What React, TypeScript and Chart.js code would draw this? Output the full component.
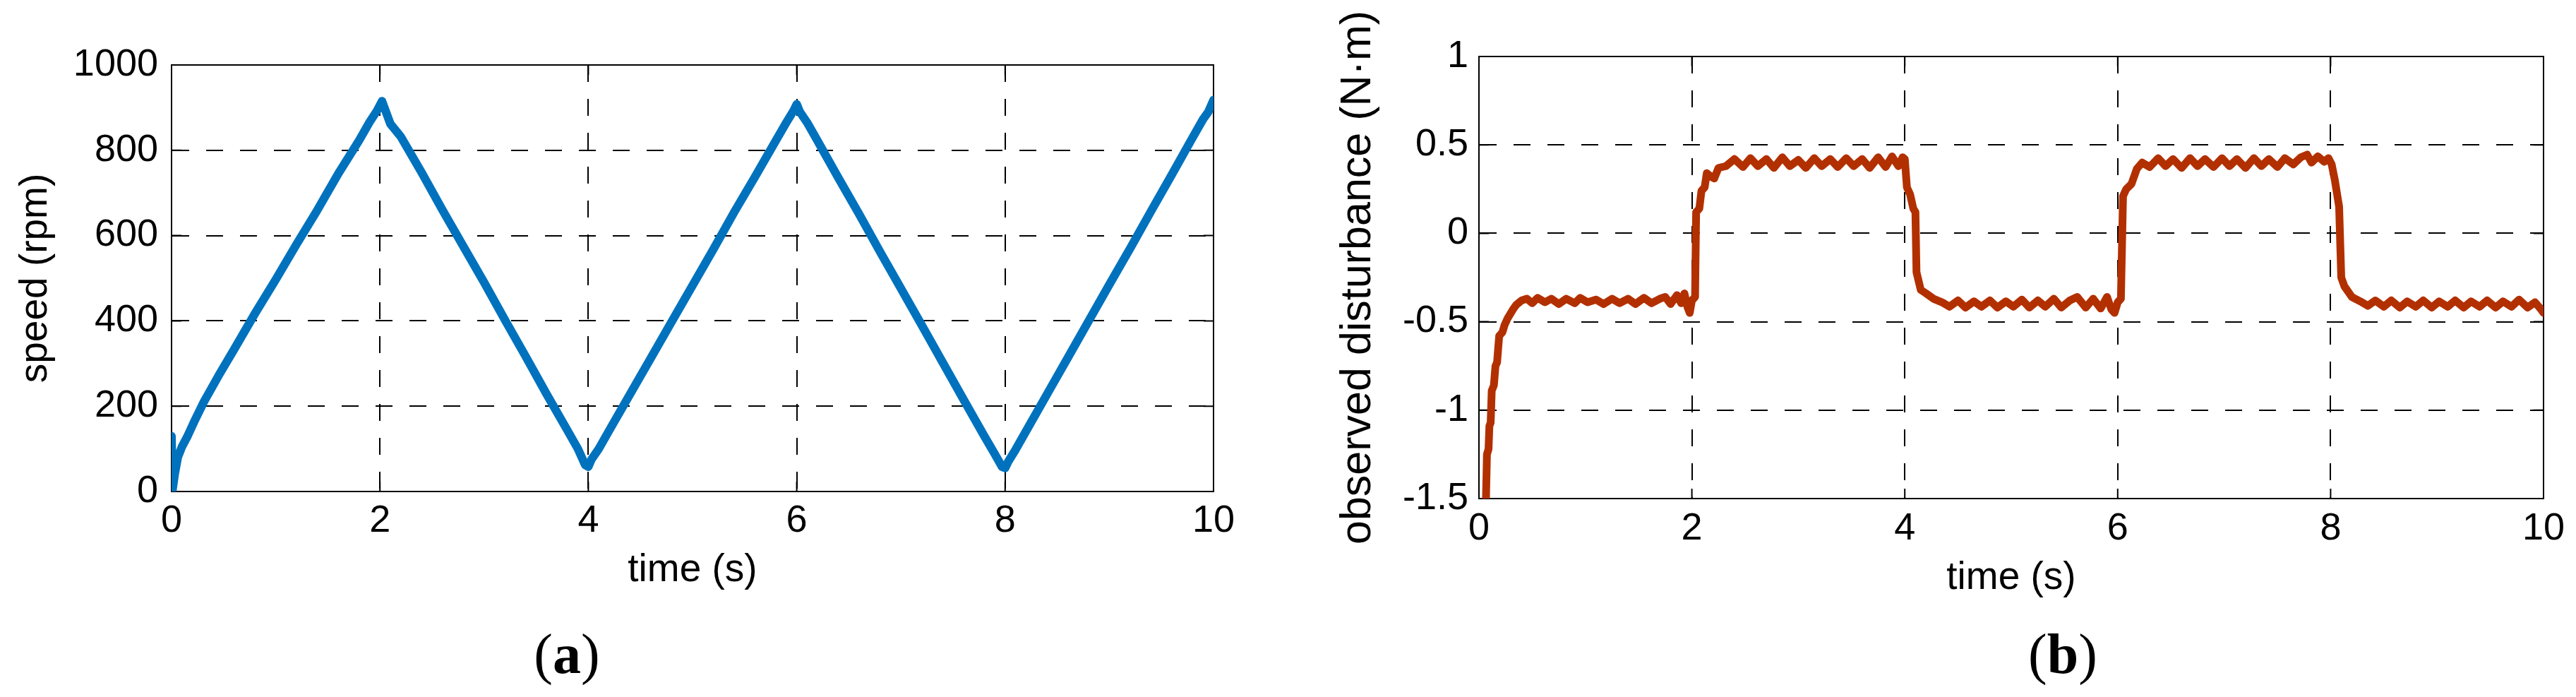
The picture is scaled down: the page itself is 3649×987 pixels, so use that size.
import React, { useEffect, useRef } from "react";
import { Chart, registerables } from "chart.js";
Chart.register(...registerables);

// ---- data ----
const speedTime = [0, 0.01, 0.03, 0.06, 0.1, 0.15, 0.22, 0.31, 0.45, 0.6, 0.8, 1.0, 1.2, 1.4, 1.6, 1.8, 1.9, 1.97, 2.02, 2.05, 2.1, 2.2, 2.4, 2.6, 2.8, 3.0, 3.2, 3.4, 3.6, 3.8, 3.9, 3.97, 4.0, 4.03, 4.1, 4.2, 4.4, 4.6, 4.8, 5.0, 5.2, 5.4, 5.6, 5.8, 5.9, 5.97, 6.0, 6.03, 6.1, 6.2, 6.4, 6.6, 6.8, 7.0, 7.2, 7.4, 7.6, 7.8, 7.9, 7.97, 8.0, 8.03, 8.1, 8.2, 8.4, 8.6, 8.8, 9.0, 9.2, 9.4, 9.6, 9.8, 9.9, 9.95, 10.0];
const speedValue = [130, 5, 40, 80, 105, 128, 165, 210, 271, 333, 417, 497, 580, 660, 745, 823, 866, 892, 915, 895, 862, 832, 748, 660, 575, 490, 402, 316, 228, 143, 100, 62, 58, 75, 100, 143, 228, 313, 398, 483, 568, 655, 738, 823, 865, 893, 908, 890, 865, 822, 735, 650, 562, 476, 390, 303, 216, 130, 88, 58, 55, 70, 98, 141, 227, 313, 399, 485, 570, 657, 743, 830, 873, 890, 918];

const distTime = [0.066, 0.075, 0.09, 0.098, 0.11, 0.12, 0.14, 0.155, 0.17, 0.19, 0.22, 0.24, 0.27, 0.29, 0.32, 0.35, 0.4, 0.45, 0.5, 0.55, 0.62, 0.68, 0.75, 0.82, 0.9, 0.95, 1.02, 1.1, 1.17, 1.25, 1.32, 1.4, 1.47, 1.55, 1.62, 1.7, 1.75, 1.8, 1.86, 1.9, 1.93, 1.96, 1.98, 2.0, 2.03, 2.04, 2.07, 2.09, 2.12, 2.14, 2.18, 2.21, 2.25, 2.32, 2.4, 2.48, 2.55, 2.62, 2.7, 2.77, 2.85, 2.92, 3.0, 3.07, 3.15, 3.22, 3.3, 3.37, 3.45, 3.52, 3.6, 3.67, 3.75, 3.82, 3.88, 3.94, 3.98, 4.0, 4.02, 4.05, 4.08, 4.1, 4.11, 4.13, 4.15, 4.2, 4.27, 4.35, 4.42, 4.5, 4.57, 4.65, 4.72, 4.8, 4.87, 4.95, 5.02, 5.1, 5.17, 5.25, 5.32, 5.4, 5.47, 5.55, 5.62, 5.7, 5.77, 5.84, 5.9, 5.94, 5.97, 6.0, 6.03, 6.05, 6.08, 6.13, 6.18, 6.23, 6.3, 6.38, 6.45, 6.52, 6.6, 6.68, 6.75, 6.82, 6.9, 6.98, 7.05, 7.12, 7.2, 7.28, 7.35, 7.42, 7.5, 7.57, 7.65, 7.72, 7.78, 7.82, 7.88, 7.94, 7.98, 8.01, 8.04, 8.08, 8.1, 8.13, 8.2, 8.28, 8.35, 8.42, 8.5, 8.57, 8.65, 8.72, 8.8, 8.87, 8.95, 9.02, 9.1, 9.17, 9.25, 9.32, 9.4, 9.47, 9.55, 9.62, 9.7, 9.77, 9.85, 9.92, 9.97, 10.0];
const distValue = [-1.5, -1.25, -1.22, -1.09, -1.07, -0.89, -0.86, -0.75, -0.73, -0.58, -0.56, -0.52, -0.48, -0.46, -0.43, -0.405, -0.38, -0.37, -0.395, -0.365, -0.39, -0.37, -0.4, -0.37, -0.395, -0.365, -0.39, -0.375, -0.4, -0.37, -0.395, -0.37, -0.4, -0.365, -0.395, -0.37, -0.36, -0.4, -0.35, -0.395, -0.34, -0.42, -0.45, -0.38, -0.36, 0.12, 0.14, 0.24, 0.26, 0.34, 0.32, 0.31, 0.37, 0.38, 0.42, 0.375, 0.425, 0.38, 0.42, 0.37, 0.43, 0.38, 0.415, 0.37, 0.425, 0.38, 0.42, 0.375, 0.425, 0.38, 0.42, 0.37, 0.43, 0.375, 0.435, 0.38, 0.43, 0.42, 0.26, 0.22, 0.14, 0.12, -0.22, -0.27, -0.32, -0.34, -0.37, -0.39, -0.415, -0.38, -0.42, -0.385, -0.415, -0.38, -0.42, -0.385, -0.415, -0.375, -0.42, -0.38, -0.415, -0.37, -0.42, -0.38, -0.36, -0.42, -0.37, -0.425, -0.36, -0.43, -0.45, -0.39, -0.37, 0.21, 0.25, 0.28, 0.365, 0.4, 0.375, 0.425, 0.38, 0.42, 0.37, 0.425, 0.38, 0.42, 0.375, 0.425, 0.38, 0.42, 0.37, 0.425, 0.38, 0.42, 0.375, 0.425, 0.39, 0.43, 0.445, 0.4, 0.435, 0.405, 0.425, 0.39, 0.3, 0.15, -0.25, -0.3, -0.36, -0.385, -0.41, -0.38, -0.415, -0.38, -0.42, -0.385, -0.415, -0.38, -0.42, -0.385, -0.415, -0.38, -0.42, -0.385, -0.415, -0.38, -0.42, -0.385, -0.415, -0.375, -0.42, -0.39, -0.425, -0.45];

const timeTicks = [0, 2, 4, 6, 8, 10];
const speedTicks = [0, 200, 400, 600, 800, 1000];
const distTicks = [-1.5, -1, -0.5, 0, 0.5, 1];

const FONT = "'Liberation Sans', Arial, Helvetica, sans-serif";
const SERIF = "'Liberation Serif', 'Times New Roman', serif";

const boxPlugin = {
  id: "matlabBox",
  beforeDatasetsDraw(chart: any) {
    const { ctx, chartArea: a, scales } = chart;
    ctx.save();
    ctx.strokeStyle = "#000";
    ctx.lineWidth = 2;
    ctx.setLineDash([]);
    ctx.strokeRect(a.left, a.top, a.right - a.left, a.bottom - a.top);
    const L = 14;
    ctx.beginPath();
    scales.x.ticks.forEach((t: any) => {
      const x = scales.x.getPixelForValue(t.value);
      ctx.moveTo(x, a.bottom);
      ctx.lineTo(x, a.bottom - L);
      ctx.moveTo(x, a.top);
      ctx.lineTo(x, a.top + L);
    });
    scales.y.ticks.forEach((t: any) => {
      const y = scales.y.getPixelForValue(t.value);
      ctx.moveTo(a.left, y);
      ctx.lineTo(a.left + L, y);
      ctx.moveTo(a.right, y);
      ctx.lineTo(a.right - L, y);
    });
    ctx.stroke();
    ctx.restore();
  },
};

// panel caption "(a)" / "(b)": regular parentheses, bold letter
const captionPlugin = {
  id: "panelCaption",
  afterDraw(chart: any, _args: any, opts: any) {
    if (!opts || !opts.letter) return;
    const { ctx } = chart;
    const size = opts.size;
    const parts = [
      { t: "(", w: "normal" },
      { t: opts.letter, w: "bold" },
      { t: ")", w: "normal" },
    ];
    ctx.save();
    ctx.fillStyle = "#000";
    ctx.textBaseline = "alphabetic";
    ctx.textAlign = "left";
    const widths = parts.map((p) => {
      ctx.font = `${p.w} ${size}px ${SERIF}`;
      return ctx.measureText(p.t).width;
    });
    const total = widths.reduce((s, w) => s + w, 0);
    let x = opts.cx - total / 2;
    parts.forEach((p, i) => {
      ctx.font = `${p.w} ${size}px ${SERIF}`;
      ctx.fillText(p.t, x, opts.baseline);
      x += widths[i];
    });
    ctx.restore();
  },
};

type Cfg = {
  xs: number[];
  ys: number[];
  color: string;
  lineWidth: number;
  yMin: number;
  yMax: number;
  yTicks: number[];
  yTitle: string;
  yTitleSize: number;
  yTitlePad: number;
  yWidth: number;
  xHeight: number;
  xTitlePad: number;
  xTickPad: number;
  yTickPad: number;
  padding: { left: number; right: number; top: number; bottom: number };
  caption: { letter: string; cx: number; baseline: number; size: number };
};

function makeConfig(c: Cfg): any {
  return {
    type: "line",
    data: {
      datasets: [
        {
          data: c.xs.map((x, i) => ({ x, y: c.ys[i] })),
          borderColor: c.color,
          borderWidth: c.lineWidth,
          pointRadius: 0,
          tension: 0,
          borderJoinStyle: "round",
          borderCapStyle: "round",
          fill: false,
        },
      ],
    },
    options: {
      animation: false,
      responsive: false,
      maintainAspectRatio: false,
      devicePixelRatio: 1,
      layout: { padding: c.padding },
      plugins: {
        legend: { display: false },
        tooltip: { enabled: false },
        title: { display: false },
        panelCaption: c.caption,
      },
      scales: {
        x: {
          type: "linear",
          min: 0,
          max: 10,
          afterBuildTicks: (s: any) => {
            s.ticks = timeTicks.map((v) => ({ value: v }));
          },
          afterFit: (s: any) => {
            s.height = c.xHeight;
          },
          ticks: {
            font: { family: FONT, size: 54 },
            color: "#000",
            padding: c.xTickPad,
            maxRotation: 0,
            autoSkip: false,
            callback: (v: any) => String(v),
          },
          grid: { color: "#000", lineWidth: 2, drawTicks: false },
          border: { display: true, color: "#000", width: 2, dash: [24, 24] },
          title: {
            display: true,
            text: "time (s)",
            color: "#000",
            font: { family: FONT, size: 55 },
            padding: { top: 0, bottom: c.xTitlePad },
          },
        },
        y: {
          type: "linear",
          min: c.yMin,
          max: c.yMax,
          afterBuildTicks: (s: any) => {
            s.ticks = c.yTicks.map((v) => ({ value: v }));
          },
          afterFit: (s: any) => {
            s.width = c.yWidth;
          },
          ticks: {
            font: { family: FONT, size: 54 },
            color: "#000",
            padding: c.yTickPad,
            autoSkip: false,
            callback: (v: any) => String(v),
          },
          grid: { color: "#000", lineWidth: 2, drawTicks: false },
          border: { display: true, color: "#000", width: 2, dash: [24, 24] },
          title: {
            display: true,
            text: c.yTitle,
            color: "#000",
            font: { family: FONT, size: c.yTitleSize },
            padding: { top: c.yTitlePad, bottom: 0 },
          },
        },
      },
    },
    plugins: [boxPlugin, captionPlugin],
  };
}

export default function App() {
  const ref1 = useRef<HTMLCanvasElement | null>(null);
  const ref2 = useRef<HTMLCanvasElement | null>(null);

  useEffect(() => {
    document.body.style.margin = "0";
    const c1 = new Chart(
      ref1.current as HTMLCanvasElement,
      makeConfig({
        xs: speedTime,
        ys: speedValue,
        color: "#0072BD",
        lineWidth: 12,
        yMin: 0,
        yMax: 1000,
        yTicks: speedTicks,
        yTitle: "speed (rpm)",
        yTitleSize: 55,
        yTitlePad: 18,
        yWidth: 243,
        xHeight: 148,
        xTitlePad: 3,
        xTickPad: 10,
        yTickPad: 19,
        padding: { left: 0, right: 41, top: 92, bottom: 143 },
        caption: { letter: "a", cx: 803, baseline: 953, size: 80 },
      })
    );
    const c2 = new Chart(
      ref2.current as HTMLCanvasElement,
      makeConfig({
        xs: distTime,
        ys: distValue,
        color: "rgb(178,48,0)",
        lineWidth: 11,
        yMin: -1.5,
        yMax: 1,
        yTicks: distTicks,
        yTitle: "observed disturbance (N·m)",
        yTitleSize: 61,
        yTitlePad: 88,
        yWidth: 295,
        xHeight: 152,
        xTitlePad: 6,
        xTickPad: 11,
        yTickPad: 15,
        padding: { left: 0, right: 46, top: 80, bottom: 129 },
        caption: { letter: "b", cx: 2922 - 1800, baseline: 953, size: 80 },
      })
    );
    return () => {
      c1.destroy();
      c2.destroy();
    };
  }, []);

  return (
    <div style={{ position: "fixed", left: 0, top: 0, width: 3649, height: 987, background: "#fff", overflow: "hidden" }}>
      <canvas ref={ref1} width={1760} height={987} style={{ position: "absolute", left: 0, top: 0, width: 1760, height: 987 }} />
      <canvas ref={ref2} width={1849} height={987} style={{ position: "absolute", left: 1800, top: 0, width: 1849, height: 987 }} />
    </div>
  );
}
